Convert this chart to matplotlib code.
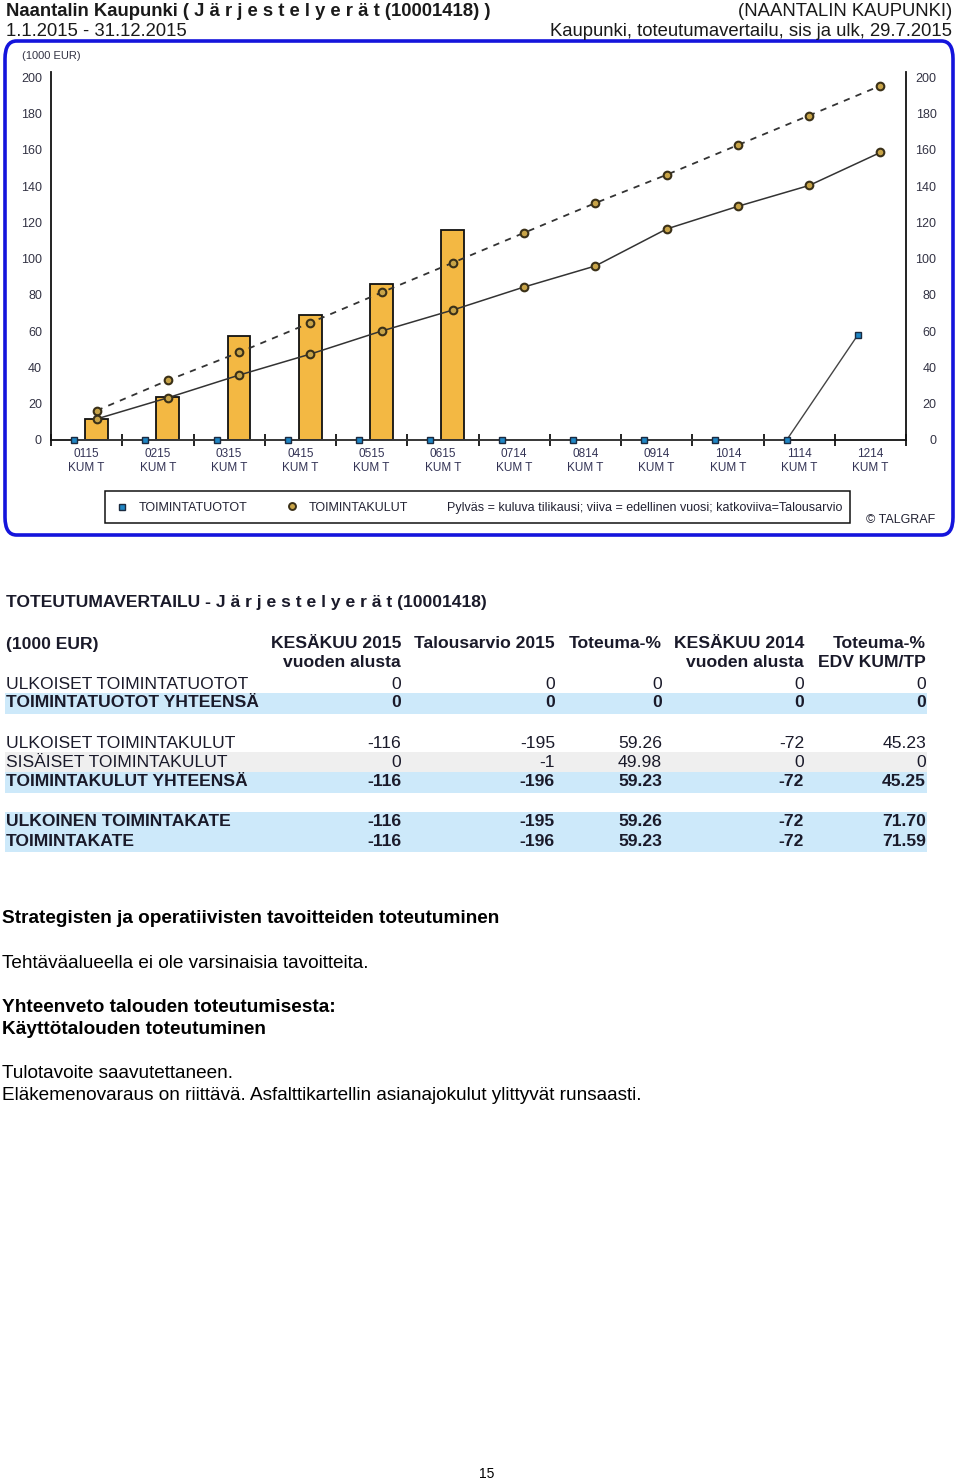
import matplotlib
matplotlib.use("Agg")
import matplotlib.pyplot as plt
from matplotlib import font_manager
from matplotlib.patches import FancyBboxPatch, Rectangle
from matplotlib.lines import Line2D

W, H = 960, 1483

# chart data (1000 EUR), cumulative per month
months = ["0115", "0215", "0315", "0415", "0515", "0615",
          "0714", "0814", "0914", "1014", "1114", "1214"]
current_costs = [11.6, 23.5, 57.2, 68.8, 86.0, 115.6]
prev_costs = [11.6, 23.3, 35.8, 47.4, 60.1, 71.7, 84.4, 96.0, 116.4, 128.9, 140.4, 158.6]
budget_costs = [16.2, 32.9, 48.3, 64.7, 81.4, 97.8, 114.3, 130.7, 146.3, 162.7, 179.0, 195.4]
income = [0, 0, 0, 0, 0, 0, 0, 0, 0, 0, 0, 58]
yticks = list(range(0, 201, 20))

# table data
col_head1 = ["KESÄKUU 2015", "Talousarvio 2015", "Toteuma-%", "KESÄKUU 2014", "Toteuma-%"]
col_head2 = ["vuoden alusta", "", "", "vuoden alusta", "EDV KUM/TP"]
row_labels = ["ULKOISET TOIMINTATUOTOT", "TOIMINTATUOTOT YHTEENSÄ",
              "ULKOISET TOIMINTAKULUT", "SISÄISET TOIMINTAKULUT", "TOIMINTAKULUT YHTEENSÄ",
              "ULKOINEN TOIMINTAKATE", "TOIMINTAKATE"]
row_values = [
    ["0", "0", "0", "0", "0"],
    ["0", "0", "0", "0", "0"],
    ["-116", "-195", "59.26", "-72", "45.23"],
    ["0", "-1", "49.98", "0", "0"],
    ["-116", "-196", "59.23", "-72", "45.25"],
    ["-116", "-195", "59.26", "-72", "71.70"],
    ["-116", "-196", "59.23", "-72", "71.59"],
]
row_bold = [False, True, False, False, True, True, True]
row_bg = [None, "#cde9fa", None, "#efefef", "#cde9fa", "#cde9fa", "#cde9fa"]

available = {f.name for f in font_manager.fontManager.ttflist}
narrow = "Liberation Sans Narrow" if "Liberation Sans Narrow" in available else "Liberation Sans"
base = "Liberation Sans"
plt.rcParams["font.family"] = [base, "DejaVu Sans"]


def fx(x):
    return x / W


def fy(y):
    return 1 - y / H


fig = plt.figure(figsize=(W / 100, H / 100), dpi=100)

# page header
hdr = 13.3
fig.text(fx(6), fy(11), "Naantalin Kaupunki ( J ä r j e s t e l y e r ä t (10001418) )",
         family=narrow, weight="bold", fontsize=hdr, va="center", color="#1a1a1a")
fig.text(fx(6), fy(31), "1.1.2015 - 31.12.2015", family=narrow, fontsize=hdr,
         va="center", color="#1a1a1a")
fig.text(fx(952), fy(11), "(NAANTALIN KAUPUNKI)", family=narrow, fontsize=hdr,
         va="center", ha="right", color="#1a1a1a")
fig.text(fx(952), fy(31), "Kaupunki, toteutumavertailu, sis ja ulk, 29.7.2015", family=narrow,
         fontsize=hdr, va="center", ha="right", color="#1a1a1a")

# blue rounded frame
frame = FancyBboxPatch((fx(5), fy(535)), fx(948), (535 - 41) / H,
                       boxstyle="round,pad=0,rounding_size=0.012",
                       transform=fig.transFigure, fill=False, edgecolor="#1414dc", lw=2.6)
fig.add_artist(frame)
fig.text(fx(22), fy(56), "(1000 EUR)", family=narrow, fontsize=8, va="center", color="#333344")

# chart
ax = fig.add_axes([fx(51), fy(440), fx(906 - 51), (440 - 72) / H])
n = len(months)
centers = [i + 0.5 for i in range(n)]
bar_x = [c + 0.14 for c in centers]
sq_x = [c - 0.175 for c in centers]

ax.bar(bar_x[:len(current_costs)], current_costs, width=0.32, color="#f3b843",
       edgecolor="#111111", lw=1.3, zorder=2)
ax.plot(bar_x, budget_costs, color="#333333", lw=1.3, ls=(0, (3.5, 3.5)), zorder=3)
ax.plot(bar_x, prev_costs, color="#333333", lw=1.1, zorder=3)
ax.plot(bar_x, budget_costs, ls="none", marker="o", ms=5.5, mfc="#c8a448", mec="#3a3018",
        mew=1.5, zorder=4, clip_on=False)
ax.plot(bar_x, prev_costs, ls="none", marker="o", ms=5.5, mfc="#c8a448", mec="#3a3018",
        mew=1.5, zorder=4, clip_on=False)
ax.plot(sq_x, income, color="#444444", lw=1.0, marker="s", ms=5, mfc="#1f86c4",
        mec="#1a2a40", mew=1.0, zorder=5, clip_on=False)

ax.set_xlim(0, n)
ax.set_ylim(0, 203)
ax.spines["top"].set_visible(False)
for s in ["left", "right", "bottom"]:
    ax.spines[s].set_linewidth(1.3)
    ax.spines[s].set_color("#111111")

ax.set_xticks(range(n + 1))
ax.set_xticklabels([])
ax.tick_params(axis="x", which="major", direction="inout", length=9, width=1.3, color="#111111")
ax.set_xticks(centers, minor=True)
ax.set_xticklabels([m + "\nKUM T" for m in months], minor=True, family=narrow,
                   fontsize=8.5, color="#333355")
ax.tick_params(axis="x", which="minor", length=0, pad=6)

ax.set_yticks(yticks)
ax.set_yticklabels([str(v) for v in yticks], family=narrow, fontsize=9, color="#333344")
ax.tick_params(axis="y", length=0, pad=6.5)

ax2 = ax.twinx()
ax2.set_ylim(ax.get_ylim())
ax2.set_yticks(yticks)
ax2.set_yticklabels([str(v) for v in yticks], family=narrow, fontsize=9, color="#333344")
for lbl in ax2.get_yticklabels():
    lbl.set_ha("right")
ax2.tick_params(axis="y", length=0, pad=22)
for s in ax2.spines.values():
    s.set_visible(False)

# legend box
fig.add_artist(Rectangle((fx(105), fy(523)), fx(850 - 105), (523 - 491) / H,
                         transform=fig.transFigure, fill=False, edgecolor="#111111", lw=1.1))
fig.add_artist(Line2D([fx(122)], [fy(507)], transform=fig.transFigure, marker="s", ms=5,
                      mfc="#1f86c4", mec="#1a2a40", mew=1.0, ls="none"))
fig.add_artist(Line2D([fx(292)], [fy(506)], transform=fig.transFigure, marker="o", ms=5,
                      mfc="#c8a448", mec="#3a3018", mew=1.4, ls="none"))
leg = 9
fig.text(fx(139), fy(508), "TOIMINTATUOTOT", family=narrow, fontsize=leg, va="center", color="#222233")
fig.text(fx(309), fy(508), "TOIMINTAKULUT", family=narrow, fontsize=leg, va="center", color="#222233")
fig.text(fx(447), fy(508), "Pylväs = kuluva tilikausi; viiva = edellinen vuosi; katkoviiva=Talousarvio",
         family=narrow, fontsize=leg, va="center", color="#222233")
fig.text(fx(866), fy(520), "© TALGRAF", family=narrow, fontsize=leg, va="center", color="#222233")

# table
tf = 12.6
fig.text(fx(6), fy(603), "TOTEUTUMAVERTAILU - J ä r j e s t e l y e r ä t (10001418)",
         weight="bold", fontsize=tf, va="center", color="#1a1a2a")
col_right = [401, 555, 662, 804, 926]
fig.text(fx(6), fy(644), "(1000 EUR)", weight="bold", fontsize=tf, va="center", color="#1a1a2a")
for xr, h1, h2 in zip(col_right, col_head1, col_head2):
    fig.text(fx(xr), fy(644), h1, weight="bold", fontsize=tf, va="center", ha="right", color="#1a1a2a")
    if h2:
        fig.text(fx(xr), fy(662), h2, weight="bold", fontsize=tf, va="center", ha="right", color="#1a1a2a")

row_y = [684, 703, 744, 762, 782, 822, 841]
for y, label, vals, bold, bg in zip(row_y, row_labels, row_values, row_bold, row_bg):
    if bg:
        fig.add_artist(Rectangle((fx(5), fy(y + 11)), fx(927 - 5), 21 / H,
                                 transform=fig.transFigure, facecolor=bg, edgecolor="none", zorder=0))
    w = "bold" if bold else "normal"
    fig.text(fx(6), fy(y), label, weight=w, fontsize=tf, va="center", color="#1a1a2a")
    for xr, v in zip(col_right, vals):
        fig.text(fx(xr), fy(y), v, weight=w, fontsize=tf, va="center", ha="right", color="#1a1a2a")

# body text
body = [
    (919, "Strategisten ja operatiivisten tavoitteiden toteutuminen", "bold"),
    (964, "Tehtäväalueella ei ole varsinaisia tavoitteita.", "normal"),
    (1007, "Yhteenveto talouden toteutumisesta:", "bold"),
    (1029, "Käyttötalouden toteutuminen", "bold"),
    (1073, "Tulotavoite saavutettaneen.", "normal"),
    (1095, "Eläkemenovaraus on riittävä. Asfalttikartellin asianajokulut ylittyvät runsaasti.", "normal"),
]
for y, txt, w in body:
    fig.text(fx(2), fy(y), txt, weight=w, fontsize=13.7, va="center", color="#000000")

fig.text(fx(487), fy(1474), "15", fontsize=10, va="center", ha="center", color="#000000")

fig.savefig("out.png", dpi=100)
